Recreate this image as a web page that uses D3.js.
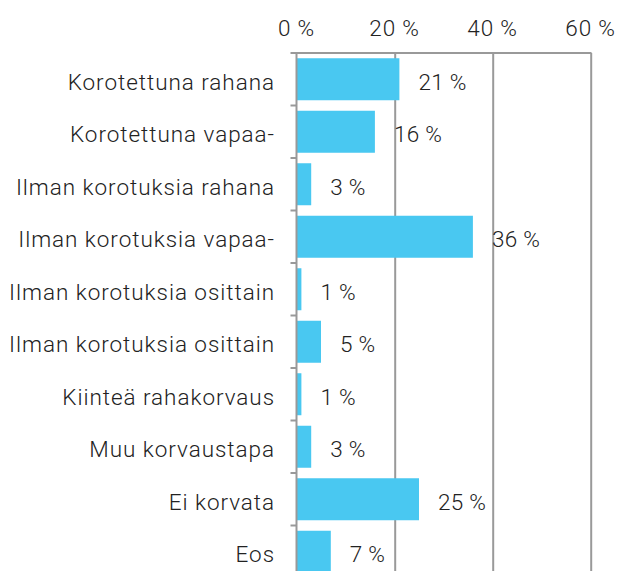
<!DOCTYPE html>
<html><head><meta charset="utf-8">
<script src="https://cdn.jsdelivr.net/npm/d3@7"></script>
<style>
html,body{margin:0;padding:0;background:#fff;overflow:hidden}
text{font-family:Roboto,"Noto Sans",sans-serif;font-weight:300;fill:#222;font-size:22.5px}
</style></head>
<body>
<svg id="c" width="619" height="571"></svg>
<script>
const categories = ["Korotettuna rahana","Korotettuna vapaa-","Ilman korotuksia rahana","Ilman korotuksia vapaa-","Ilman korotuksia osittain","Ilman korotuksia osittain","Kiinteä rahakorvaus","Muu korvaustapa","Ei korvata","Eos"];
const values = [21,16,3,36,1,5,1,3,25,7];
const tickValues = [0,20,40,60];

const svg = d3.select("#c");
const x = d3.scaleLinear().domain([0,60]).range([296.5,590.5]);
const y = d3.scaleBand().domain(d3.range(categories.length)).range([53,578]).paddingInner(0.2).paddingOuter(0.1);

// gridlines
svg.append("g").selectAll("line").data(tickValues.slice(1)).join("line")
  .attr("x1",d=>x(d)+0.7).attr("x2",d=>x(d)+0.7).attr("y1",53).attr("y2",578)
  .attr("stroke","#999").attr("stroke-width",2);

// top axis line
svg.append("line").attr("x1",x(0)-5).attr("x2",x(60)+1).attr("y1",53).attr("y2",53)
  .attr("stroke","#999").attr("stroke-width",2);

// bars
svg.append("g").selectAll("rect").data(values).join("rect")
  .attr("x",x(0)).attr("y",(d,i)=>y(i)).attr("height",y.bandwidth())
  .attr("width",d=>x(d)-x(0)).attr("fill","#49C8F1");

// left axis
svg.append("line").attr("x1",x(0)).attr("x2",x(0)).attr("y1",53).attr("y2",578)
  .attr("stroke","#999").attr("stroke-width",2);
svg.append("g").selectAll("line").data(d3.range(categories.length+1)).join("line")
  .attr("x1",x(0)-6).attr("x2",x(0)).attr("y1",i=>53+i*y.step()).attr("y2",i=>53+i*y.step())
  .attr("stroke","#999").attr("stroke-width",2);

// tick labels
svg.append("g").selectAll("text").data(tickValues).join("text")
  .attr("x",d=>x(d)).attr("y",36).attr("text-anchor","middle")
  .style("letter-spacing","0.8px").text(d=>d+" %");

// category labels
svg.append("g").selectAll("text").data(categories).join("text")
  .attr("x",275).attr("y",(d,i)=>y(i)+y.bandwidth()/2+10.5)
  .attr("text-anchor","end").style("letter-spacing","0.95px").text(d=>d);

// value labels
svg.append("g").selectAll("text").data(values).join("text")
  .attr("x",d=>x(d)+19).attr("y",(d,i)=>y(i)+y.bandwidth()/2+10.5)
  .attr("text-anchor","start").style("letter-spacing","0.3px").text(d=>d+" %");
</script>
</body></html>
